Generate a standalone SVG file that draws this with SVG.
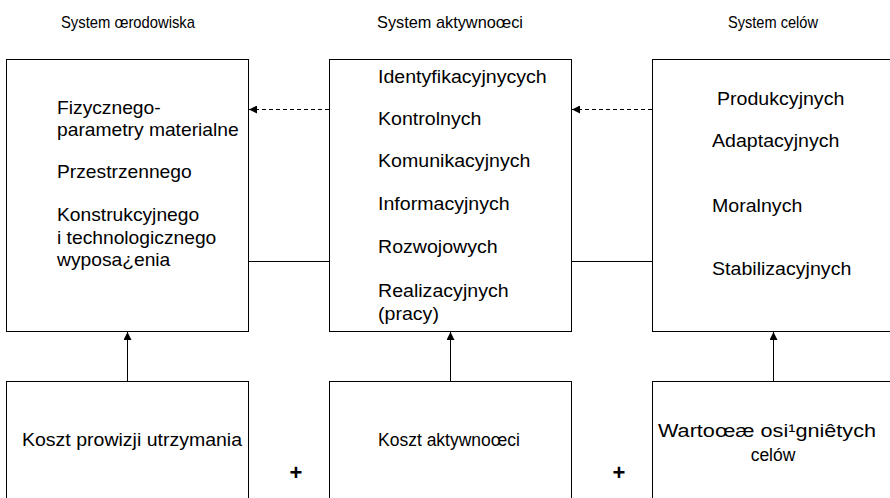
<svg xmlns="http://www.w3.org/2000/svg" width="890" height="498" viewBox="0 0 890 498">
<defs>
<style>
.box{fill:#fff;stroke:#000;stroke-width:1}
.t{font-family:"Liberation Sans",Arial,sans-serif;font-size:17.5px;fill:#000}
.h{font-family:"Liberation Sans",Arial,sans-serif;font-size:17px;fill:#000}
.p{font-family:"Liberation Sans",Arial,sans-serif;font-size:22px;font-weight:bold;fill:#000}
.line{stroke:#000;stroke-width:1;fill:none}
.dash{stroke:#000;stroke-width:1;fill:none;stroke-dasharray:4 3}
</style>
<marker id="ah" viewBox="0 0 10 10" refX="10" refY="5" markerWidth="8" markerHeight="8" markerUnits="userSpaceOnUse" orient="auto">
<path d="M0,0 L10,5 L0,10 Z" fill="#000"/>
</marker>
</defs>
<rect width="890" height="498" fill="#fff"/>
<g id="titles">
<text class="h" x="128" y="28" text-anchor="middle" textLength="134" lengthAdjust="spacingAndGlyphs">System œrodowiska</text>
<text class="h" x="450" y="28" text-anchor="middle" textLength="146" lengthAdjust="spacingAndGlyphs">System aktywnoœci</text>
<text class="h" x="773" y="28" text-anchor="middle" textLength="90" lengthAdjust="spacingAndGlyphs">System celów</text>
</g>
<g id="env">
<rect class="box" x="6.5" y="59.5" width="242" height="272"/>
<text class="t" transform="translate(57 114) scale(1.1 1)">Fizycznego-</text>
<text class="t" transform="translate(57 136) scale(1.1 1)">parametry materialne</text>
<text class="t" transform="translate(57 178) scale(1.1 1)">Przestrzennego</text>
<text class="t" transform="translate(57 221) scale(1.1 1)">Konstrukcyjnego</text>
<text class="t" transform="translate(57 244) scale(1.1 1)">i technologicznego</text>
<text class="t" transform="translate(57 266) scale(1.1 1)">wyposa¿enia</text>
</g>
<g id="act">
<rect class="box" x="329.5" y="59.5" width="242" height="272"/>
<text class="t" transform="translate(378 83) scale(1.12 1)">Identyfikacyjnycych</text>
<text class="t" transform="translate(378 125) scale(1.12 1)">Kontrolnych</text>
<text class="t" transform="translate(378 167) scale(1.12 1)">Komunikacyjnych</text>
<text class="t" transform="translate(378 210) scale(1.12 1)">Informacyjnych</text>
<text class="t" transform="translate(378 253) scale(1.12 1)">Rozwojowych</text>
<text class="t" transform="translate(378 297) scale(1.12 1)">Realizacyjnych</text>
<text class="t" transform="translate(378 320) scale(1.12 1)">(pracy)</text>
</g>
<g id="goals">
<rect class="box" x="652.5" y="59.5" width="250" height="272"/>
<text class="t" transform="translate(717 105) scale(1.12 1)">Produkcyjnych</text>
<text class="t" transform="translate(712 147) scale(1.12 1)">Adaptacyjnych</text>
<text class="t" transform="translate(712 212) scale(1.12 1)">Moralnych</text>
<text class="t" transform="translate(712 275) scale(1.12 1)">Stabilizacyjnych</text>
</g>
<g id="cost-env">
<rect class="box" x="6.5" y="381.5" width="242" height="130"/>
<text class="t" x="22" y="446" textLength="220" lengthAdjust="spacingAndGlyphs">Koszt prowizji utrzymania</text>
</g>
<g id="cost-act">
<rect class="box" x="329.5" y="381.5" width="242" height="130"/>
<text class="t" x="378" y="446">Koszt aktywnoœci</text>
</g>
<g id="value">
<rect class="box" x="652.5" y="381.5" width="250" height="130"/>
<text class="t" x="767" y="437" text-anchor="middle" textLength="218" lengthAdjust="spacingAndGlyphs">Wartoœæ osi¹gniêtych</text>
<text class="t" x="773" y="461" text-anchor="middle">celów</text>
</g>
<g id="plus">
<text class="p" x="296" y="480" text-anchor="middle">+</text>
<text class="p" x="619" y="480" text-anchor="middle">+</text>
</g>
<g id="connectors">
<line class="dash" x1="329" y1="109.5" x2="249" y2="109.5" marker-end="url(#ah)"/>
<line class="dash" x1="652" y1="109.5" x2="572" y2="109.5" marker-end="url(#ah)"/>
<line class="line" x1="249" y1="261.5" x2="329" y2="261.5"/>
<line class="line" x1="572" y1="261.5" x2="652" y2="261.5"/>
<line class="line" x1="127.5" y1="381" x2="127.5" y2="332" marker-end="url(#ah)"/>
<line class="line" x1="450.5" y1="381" x2="450.5" y2="332" marker-end="url(#ah)"/>
<line class="line" x1="773.5" y1="381" x2="773.5" y2="332" marker-end="url(#ah)"/>
</g>
</svg>
